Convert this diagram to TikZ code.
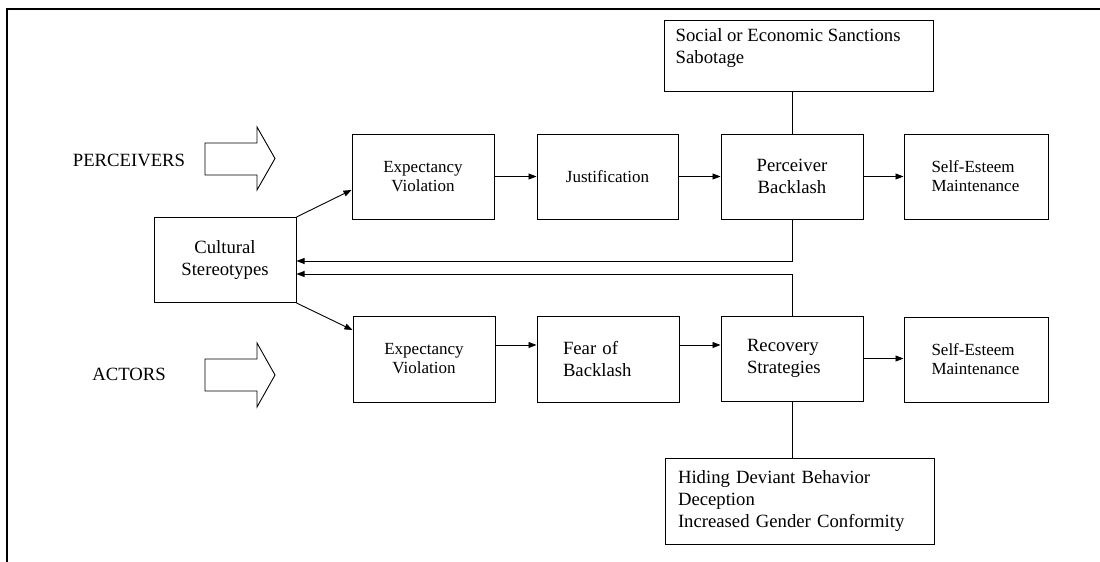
\documentclass[tikz,border=0pt]{standalone}
\usepackage{fontspec}
\setmainfont{Liberation Serif}
\usetikzlibrary{arrows.meta,calc}
\begin{document}
\begin{tikzpicture}[x=1pt,y=-1pt,
 box/.style={draw, line width=1pt, minimum width=142pt, minimum height=85pt, inner sep=0pt, align=center, font=\fontsize{18.7}{22}\selectfont},
 smallbox/.style={box, font=\fontsize{17}{19}\selectfont},
 leftbox/.style={box, align=left, text width=90pt},
 conn/.style={line width=0.9pt, -{Triangle[length=8pt,width=6pt]}},
 plain/.style={line width=0.9pt},
 lab/.style={font=\fontsize{18.7}{22}\selectfont, inner sep=0pt}
]
\useasboundingbox (0,0) rectangle (1100,562);
\draw[line width=2pt] (1100,9) -- (7,9) -- (7,562);

% labels and big arrows
\node[lab] (perc) at (129,160) {PERCEIVERS};
\node[lab] (act) at (129,374) {ACTORS};
\draw[plain] (205,143) -- (257,143) -- (257,127) -- (275,158.5) -- (257,190) -- (257,175) -- (205,175) -- cycle;
\draw[plain] (205,359) -- (257,359) -- (257,343) -- (275,375) -- (257,407) -- (257,391) -- (205,391) -- cycle;

% boxes
\node[box] (cs) at (225,260) {Cultural\\Stereotypes};
\node[smallbox] (evp) at (423,176.5) {Expectancy\\Violation};
\node[smallbox, minimum width=141pt] (just) at (607.5,176.5) {Justification};
\node[box] (pb) at (792,176.5) {Perceiver\\Backlash};
\node[smallbox, align=left, text width=89pt, minimum width=144pt] (sep) at (976,176.5) {Self-Esteem\\Maintenance};
\node[box, minimum width=269pt, minimum height=71pt] (sanc) at (798.5,55.5) {};
\node[lab, anchor=north west, align=left] (sanctxt) at ([xshift=12pt,yshift=-9pt]sanc.north west) {Social or Economic Sanctions\\Sabotage};

\node[smallbox, minimum height=86pt] (eva) at (424,359) {Expectancy\\Violation};
\node[leftbox, minimum height=86pt] (fob) at (608,359) {Fear of\\Backlash};
\node[leftbox] (rs) at (792,358.5) {Recovery\\Strategies};
\node[smallbox, align=left, text width=89pt, minimum width=144pt] (sea) at (976,359.5) {Self-Esteem\\Maintenance};
\node[box, minimum width=269pt, minimum height=86pt, align=left, text width=243pt] (hid) at (799.5,501) {Hiding Deviant Behavior\\Deception\\Increased Gender Conformity};

% connectors
\draw[conn] (cs.north east) -- ([yshift=-13.5pt]evp.west);
\draw[conn] (cs.south east) -- ([yshift=29pt]eva.west);
\draw[conn] (evp.east) -- (evp.east -| just.west);
\draw[conn] (just.east) -- (just.east -| pb.west);
\draw[conn] (pb.east) -- (pb.east -| sep.west);
\draw[plain] (pb.north) -- (pb.north |- sanc.south);
\draw[conn] (pb.south) |- ([yshift=-1pt]cs.east);
\draw[conn] (rs.north) |- ([yshift=-14pt]cs.east);
\draw[conn] ([yshift=14pt]eva.east) -- ([yshift=14pt]eva.east -| fob.west);
\draw[conn] ([yshift=14pt]fob.east) -- ([yshift=14pt]fob.east -| rs.west);
\draw[conn] (rs.east) -- (rs.east -| sea.west);
\draw[plain] (rs.south) -- (rs.south |- hid.north);
\end{tikzpicture}
\end{document}
